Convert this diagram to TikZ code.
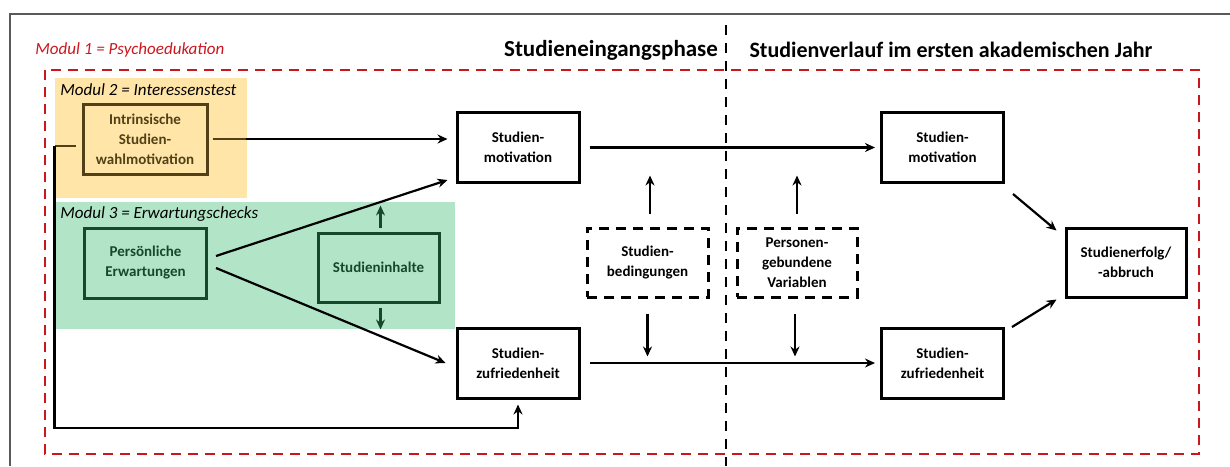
\documentclass[tikz,border=0pt]{standalone}
\usepackage{fontspec}
\setmainfont{Carlito}
\usepackage{tikz}
\usetikzlibrary{arrows.meta,positioning}

\definecolor{modred}{RGB}{204,22,30}
\definecolor{modbrown}{RGB}{82,64,22}
\definecolor{modgreen}{RGB}{22,72,42}
\definecolor{fillorange}{RGB}{255,229,168}
\definecolor{fillgreen}{RGB}{178,229,199}

\begin{document}
\begin{tikzpicture}[x=1pt,y=-1pt,>={Stealth[length=10pt,width=9pt]},line width=2.2pt,
      node distance=215.5pt,on grid,
      var/.style={draw,line width=3pt,minimum width=122pt,minimum height=70pt,align=center,
        font=\fontsize{15}{20}\selectfont\bfseries},
      cond/.style={var,dash pattern=on 10pt off 7pt},
      modlabel/.style={anchor=west,font=\fontsize{17}{20}\selectfont\itshape},
      phase/.style={font=\fontsize{22}{26}\selectfont\bfseries}]
			\useasboundingbox (0,0) rectangle (1230,466);
			\draw[gray!70!black,line width=1.5pt] (10,466) -- (10,14) -- (1230,14);
			\fill[fillorange] (55,78) rectangle (247,198);
			\fill[fillgreen] (55,202) rectangle (455,329);
			\draw[modred,line width=2.6pt,dash pattern=on 10pt off 7pt] (45,70) rectangle (1199,454);
			\draw[line width=2.2pt,dash pattern=on 10pt off 8pt] (726,25) -- (726,466);
			\node[modlabel,text=modred] (m1) at (31,50) {Modul 1 = Psychoedukation};
			\node[modlabel] (m2) at (56,90) {Modul 2 = Interessenstest};
			\node[modlabel] (m3) at (56,214) {Modul 3 = Erwartungschecks};
			\node[phase,font=\fontsize{23}{27}\selectfont\bfseries] (p1) at (611,50) {Studieneingangsphase};
			\node[phase] (p2) at (951,50) {Studienverlauf im ersten akademischen Jahr};
			\node[var,draw=modbrown,text=modbrown,minimum width=124pt] (intr) at (145,139) {Intrinsische\\Studien-\\wahlmotivation};
			\node[var,draw=modgreen,text=modgreen] (pers) at (145.5,263) {Persönliche\\Erwartungen};
			\node[var,draw=modgreen,text=modgreen,minimum width=121pt,minimum height=69pt] (inh) at (378.5,267.5) {Studieninhalte};
			\node[var] (mot1) at (518,147.5) {Studien-\\motivation};
			\node[var] (zuf1) [below=of mot1] {Studien-\\zufriedenheit};
			\node[var] (mot2) [right=424.5pt of mot1] {Studien-\\motivation};
			\node[var] (zuf2) [right=424.5pt of zuf1] {Studien-\\zufriedenheit};
			\node[cond,minimum width=121pt,minimum height=69pt] (bed) at (647.5,262.5) {Studien-\\bedingungen};
			\node[cond,minimum width=120pt,minimum height=69pt] (pvar) at (797,262.5) {Personen-\\gebundene\\Variablen};
			\node[var,minimum width=120pt,minimum height=69pt] (erf) at (1126,262.5) {Studienerfolg/\\-abbruch};
			\coordinate (fb) at ([shift={(-27pt,-7pt)}]intr.west);
			\coordinate (fbb) at (56,428);
			\draw[modbrown] ([xshift=-6pt]fb -| intr.west) -- (fb);
			\draw[->] (fb) |- (zuf1.south |- fbb) -- ([yshift=-5pt]zuf1.south);
			\draw[modbrown] ([xshift=4pt]intr.east) -- (intr.east -| 247,0);
			\draw[->] (intr.east -| 246,0) -- ([xshift=-8pt]intr.east -| mot1.west);
			\path[->]
				([shift={(8pt,7pt)}]pers.east) edge ([shift={(-8pt,4pt)}]mot1.south west)
				([shift={(8pt,-5pt)}]pers.east) edge ([xshift=-10pt]zuf1.west)
				([xshift=9pt]mot1.east) edge ([xshift=-5pt]mot2.west)
				([xshift=9pt]zuf1.east) edge ([xshift=-5pt]zuf2.west)
				([shift={(8pt,-10pt)}]mot2.south east) edge ([shift={(-8pt,-4pt)}]erf.north west)
				([shift={(7pt,-0.5pt)}]zuf2.north east) edge ([shift={(-8pt,-1pt)}]erf.south west)
				([shift={(2.5pt,13pt)}]bed.north) edge ([shift={(2.5pt,51pt)}]bed.north)
				([yshift=-15pt]bed.south) edge ([yshift=-58pt]bed.south)
				([yshift=13pt]pvar.north) edge ([yshift=51pt]pvar.north)
				([shift={(-2pt,-15pt)}]pvar.south) edge ([shift={(-2pt,-58pt)}]pvar.south);
			\path[->,modgreen]
				([shift={(2pt,4pt)}]inh.north) edge ([shift={(2pt,26pt)}]inh.north)
				([shift={(2pt,-4pt)}]inh.south) edge ([shift={(2pt,-26pt)}]inh.south);
		\end{tikzpicture}
\end{document}
